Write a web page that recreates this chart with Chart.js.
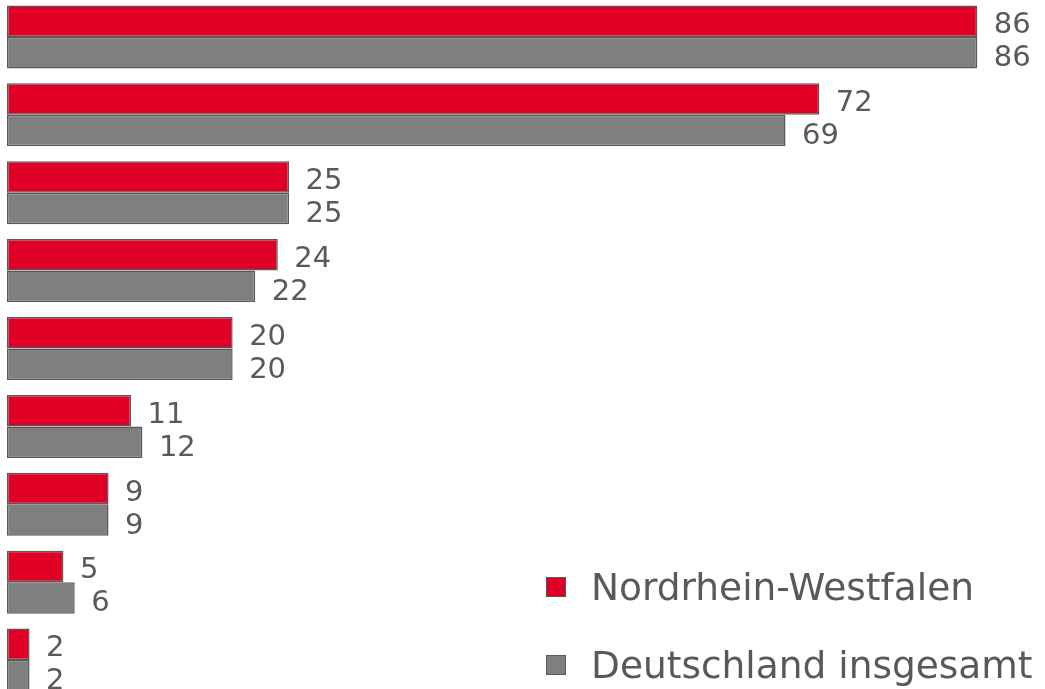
<!DOCTYPE html>
<html>
<head>
<meta charset="utf-8">
<script src="https://cdn.jsdelivr.net/npm/chart.js@4/dist/chart.umd.min.js"></script>
<style>
    html, body { margin: 0; padding: 0; background: #fff; overflow: hidden; }
    body { width: 1045px; height: 689px; position: relative; }
    .chart-box { position: absolute; left: 0; top: -2px; width: 1045px; height: 701px; }
</style>
</head>
<body>
<div class="chart-box"><canvas id="myChart"></canvas></div>
<script>
// data
const categories = ['1','2','3','4','5','6','7','8','9'];
const nrwValues = [86, 72, 25, 24, 20, 11, 9, 5, 2];
const deValues = [86, 69, 25, 22, 20, 12, 9, 6, 2];
const seriesNames = ['Nordrhein-Westfalen', 'Deutschland insgesamt'];
const seriesColors = ['#E00025', '#7F7F7F'];

const textColor = '#595959';
const fontName = '"DejaVu Sans", Verdana, sans-serif';

// value labels right of each bar
const valueLabels = {
    id: 'valueLabels',
    afterDatasetsDraw(chart) {
        const ctx = chart.ctx;
        ctx.save();
        ctx.fillStyle = textColor;
        ctx.font = '29px ' + fontName;
        ctx.textAlign = 'left';
        ctx.textBaseline = 'alphabetic';
        chart.data.datasets.forEach(function(ds, i) {
            let meta = chart.getDatasetMeta(i);
            // gray labels sit a little lower than red ones
            let dy = (i == 0) ? 12 : 13.5;
            meta.data.forEach(function(bar, j) {
                ctx.fillText(String(ds.data[j]), bar.x + 16.5, bar.y + dy);
            });
        });
        ctx.restore();
    }
};

// legend sits inside the plot, bottom right
const cornerLegend = {
    id: 'cornerLegend',
    afterDraw(chart) {
        const ctx = chart.ctx;
        ctx.save();
        ctx.font = '37.5px ' + fontName;
        ctx.textBaseline = 'alphabetic';
        chart.data.datasets.forEach(function(ds, i) {
            let top = 579 + i * 78;
            ctx.fillStyle = ds.backgroundColor;
            ctx.fillRect(546, top, 20, 20);
            ctx.strokeStyle = textColor;
            ctx.lineWidth = 1;
            ctx.strokeRect(546.5, top + 0.5, 19, 19);
            ctx.fillStyle = textColor;
            ctx.fillText(ds.label, 591, top + 23);
        });
        ctx.restore();
    }
};

const data = {
    labels: categories,
    datasets: [{
        label: seriesNames[0],
        data: nrwValues,
        backgroundColor: seriesColors[0],
        borderColor: textColor,
        borderWidth: 1.5,
        borderSkipped: false,
        categoryPercentage: 0.809,
        barPercentage: 1.0
    }, {
        label: seriesNames[1],
        data: deValues,
        backgroundColor: seriesColors[1],
        borderColor: textColor,
        borderWidth: 1.5,
        borderSkipped: false,
        categoryPercentage: 0.809,
        barPercentage: 1.0
    }]
};

const config = {
    type: 'bar',
    data: data,
    options: {
        indexAxis: 'y',
        responsive: true,
        maintainAspectRatio: false,
        animation: false,
        layout: { padding: { left: 7, right: 0, top: 0, bottom: 0 } },
        scales: {
            x: { display: false, min: 0, max: 92 },
            y: { display: false }
        },
        plugins: {
            legend: { display: false },
            tooltip: { enabled: false }
        }
    },
    plugins: [valueLabels, cornerLegend]
};

const myChart = new Chart(document.getElementById('myChart'), config);
</script>
</body>
</html>
